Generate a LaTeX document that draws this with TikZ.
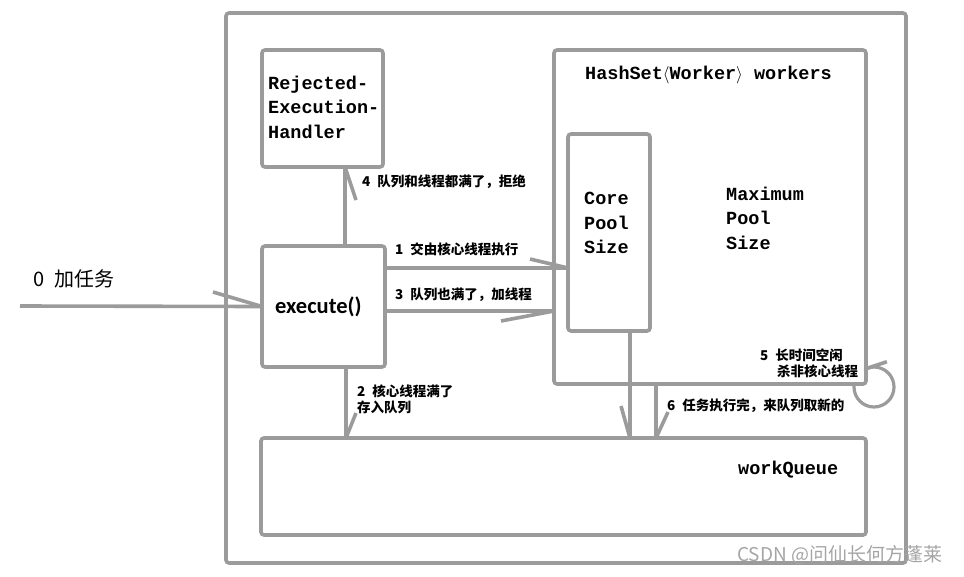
\documentclass[tikz,border=0pt]{standalone}
\usepackage{fontspec}
\setmainfont{Liberation Mono}
\newfontfamily\cjk{Noto Sans CJK SC}
\newfontfamily\carl{Carlito}
\definecolor{skgray}{RGB}{155,155,155}
\definecolor{wmgray}{RGB}{165,165,165}
\begin{document}
\begin{tikzpicture}[x=1pt,y=-1pt,
  sk/.style={draw=skgray, line width=3.6pt, rounded corners=3pt, inner sep=0pt, outer sep=0pt},
  ln/.style={draw=skgray, line width=3.6pt},
  mono/.style={font=\bfseries\fontsize{18.5}{24.5}\selectfont, inner sep=0pt, align=left, anchor=west},
  lab/.style={font=\cjk\bfseries\fontsize{13.5}{16}\selectfont, inner sep=0pt, align=left, anchor=west}]
\useasboundingbox (0,0) rectangle (964,576);
% outer box
\node[sk, minimum width=680pt, minimum height=550pt] (outer) at (566,288) {};
% loop circle (partly hidden by the HashSet box)
\node[circle, draw=skgray, line width=3.2pt, minimum size=40pt, inner sep=0pt, outer sep=0pt] (loop) at (874,387) {};
% boxes
\node[sk, fill=white, minimum width=312pt, minimum height=334pt] (hs) at (710,217) {};
\node[sk, fill=white, minimum width=82pt, minimum height=197pt] (core) at (609,232.5) {};
\node[sk, fill=white, minimum width=121pt, minimum height=117pt] (rej) at (322.5,108.5) {};
\node[sk, fill=white, minimum width=123pt, minimum height=121pt] (exec) at (323.5,306.5) {};
\node[sk, fill=white, minimum width=605pt, minimum height=97pt] (wq) at (563.5,486.5) {};
% loop barb
\draw[ln] (loop.114) -- ++(21,-7);
% helper coordinates
\coordinate (in) at (20,306);
\coordinate (x4) at (345,0);
\coordinate (y1) at (0,268);
\coordinate (y3) at (0,311);
\coordinate (x2) at (346,0);
\coordinate (xc) at (630,0);
\coordinate (x6) at (656,0);
% connectors
\draw[ln] (in) -- (exec.west);
\draw[ln] (213,292) -- (exec.west);
\draw[ln] (exec.north -| x4) -- (rej.south -| x4);
\draw[ln] (rej.south -| x4) -- ++(11,33);
\draw[ln] (exec.east |- y1) -- (core.west |- y1);
\draw[ln] (core.west |- y1) -- ++(-38,-9);
\draw[ln] (exec.east |- y3) -- (hs.west |- y3);
\draw[ln] (hs.west |- y3) -- ++(-53,10);
\draw[ln] (exec.south -| x2) -- (wq.north -| x2);
\draw[ln] (wq.north -| x2) -- ++(10,-25);
\draw[ln] (core.south -| xc) -- (wq.north -| xc);
\draw[ln] (wq.north -| xc) -- ++(-9,-32);
\draw[ln] (hs.south -| x6) -- (wq.north -| x6);
\draw[ln] (wq.north -| x6) -- ++(12,-26);
% texts
\node[font=\cjk\fontsize{20}{22}\selectfont, inner sep=0pt, anchor=west] (t0) at (33,279) {0\hspace{10pt}加任务};
\node[mono] (trej) at (268,107) {Rejected-\\Execution-\\Handler};
\node[mono] (ths) at (585,75) {HashSet$\langle$Worker$\rangle$ workers};
\node[mono] (tcore) at (584,223) {Core\\Pool\\Size};
\node[mono] (tmax) at (726,218) {Maximum\\Pool\\Size};
\node[mono] (twq) at (738,470) {workQueue};
\node[font=\carl\bfseries\fontsize{22.5}{24}\selectfont, inner sep=0pt, anchor=west] (texec) at (275,307) {execute()};
\node[lab] (l4) at (362,182) {4\hspace{7pt}队列和线程都满了，拒绝};
\node[lab] (l1) at (395,249) {1\hspace{7pt}交由核心线程执行};
\node[lab] (l3) at (395,295) {3\hspace{7pt}队列也满了，加线程};
\node[lab] (l2) at (357,399) {2\hspace{7pt}核心线程满了\\存入队列};
\node[lab] (l5) at (760,363) {5\hspace{7pt}长时间空闲\\\hspace*{17pt}杀非核心线程};
\node[lab] (l6) at (667,406) {6\hspace{7pt}任务执行完，来队列取新的};
\node[font=\cjk\fontsize{19}{20}\selectfont, text=wmgray, inner sep=0pt, anchor=west] (wm) at (737,555) {CSDN @问仙长何方蓬莱};
\end{tikzpicture}
\end{document}
